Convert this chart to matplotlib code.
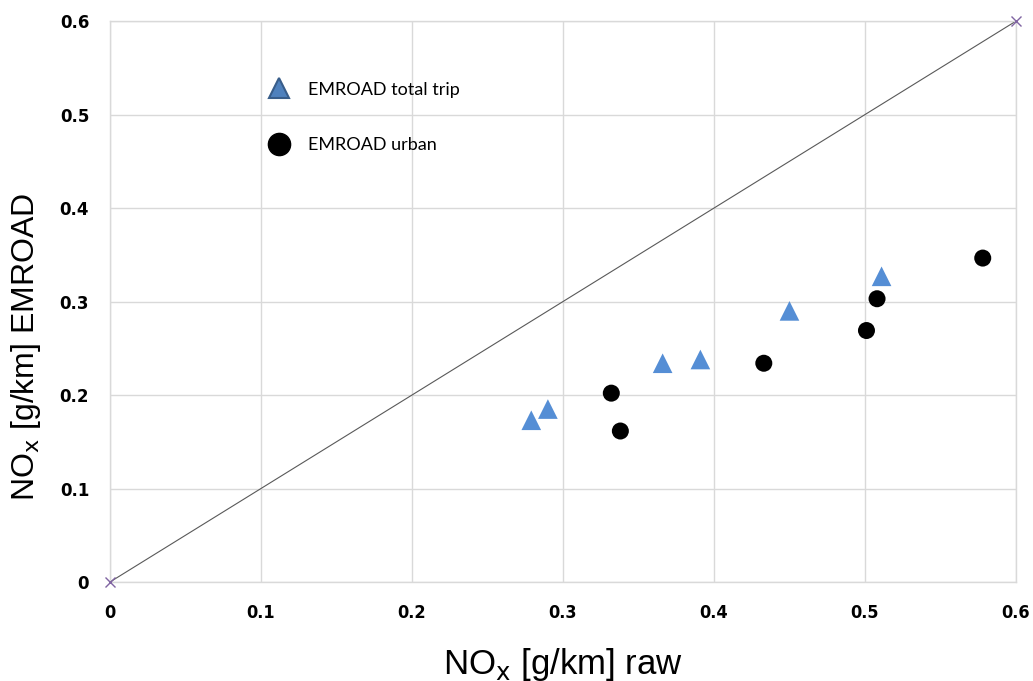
import matplotlib.pyplot as plt
from matplotlib.lines import Line2D

# data
total_x = [0.279, 0.290, 0.366, 0.391, 0.450, 0.511]
total_y = [0.173, 0.185, 0.234, 0.238, 0.290, 0.327]
urban_x = [0.332, 0.338, 0.433, 0.501, 0.508, 0.578]
urban_y = [0.202, 0.1615, 0.234, 0.269, 0.303, 0.3465]
diag = [0.0, 0.6]
ticks = [0, 0.1, 0.2, 0.3, 0.4, 0.5, 0.6]
tick_labels = ["0", "0.1", "0.2", "0.3", "0.4", "0.5", "0.6"]

grid_c = "#D9D9D9"

fig = plt.figure(figsize=(10.33, 6.81), dpi=100)
ax = fig.add_axes([0.1065, 0.1454, 0.877, 0.8236])

ax.plot(diag, diag, color="#595959", lw=0.8, zorder=2)
ax.plot(diag, diag, "x", color="#8064A2", ms=7, mew=1.0, zorder=3,
        clip_on=False)
ax.scatter(total_x, total_y, marker="^", s=200, color="#558ED5",
           edgecolors="none", zorder=4)
ax.scatter(urban_x, urban_y, marker="o", s=150, color="black",
           edgecolors="none", zorder=4)

ax.set_xlim(0, 0.6)
ax.set_ylim(0, 0.6)
ax.set_xticks(ticks)
ax.set_yticks(ticks)
ax.set_xticklabels(tick_labels, fontsize=13, fontweight="bold",
                   fontstretch="condensed", family=["DejaVu Sans"])
ax.set_yticklabels(tick_labels, fontsize=12, fontweight="bold",
                   family=["DejaVu Sans"])
ax.tick_params(length=0)
ax.tick_params(axis="x", pad=16)
ax.tick_params(axis="y", pad=15)
ax.grid(True, color=grid_c, lw=1.0, zorder=0)
ax.set_axisbelow(True)
for sp in ax.spines.values():
    sp.set_color(grid_c)
    sp.set_linewidth(1.0)

fam = ["Liberation Sans", "DejaVu Sans"]
ax.set_xlabel(r"NO$_\mathrm{x}$ [g/km] raw", fontsize=25, family=fam,
              labelpad=17)
ax.set_ylabel(r"NO$_\mathrm{x}$ [g/km] EMROAD", fontsize=23, family=fam,
              labelpad=12, y=0.42)

handles = [
    Line2D([], [], marker="^", ls="none", ms=15, color="#4F81BD",
           markeredgecolor="#385D8A", mew=1.5, label="EMROAD total trip"),
    Line2D([], [], marker="o", ls="none", ms=16, color="black",
           label="EMROAD urban"),
]
ax.legend(handles=handles, loc="upper left", bbox_to_anchor=(0.1716, 0.892),
          frameon=False, labelspacing=2.2, handlelength=1.5,
          handletextpad=0.85, borderpad=0, borderaxespad=0,
          prop={"family": ["Lato", "DejaVu Sans"], "size": 13})

fig.savefig("out.png", dpi=100, facecolor="w")
